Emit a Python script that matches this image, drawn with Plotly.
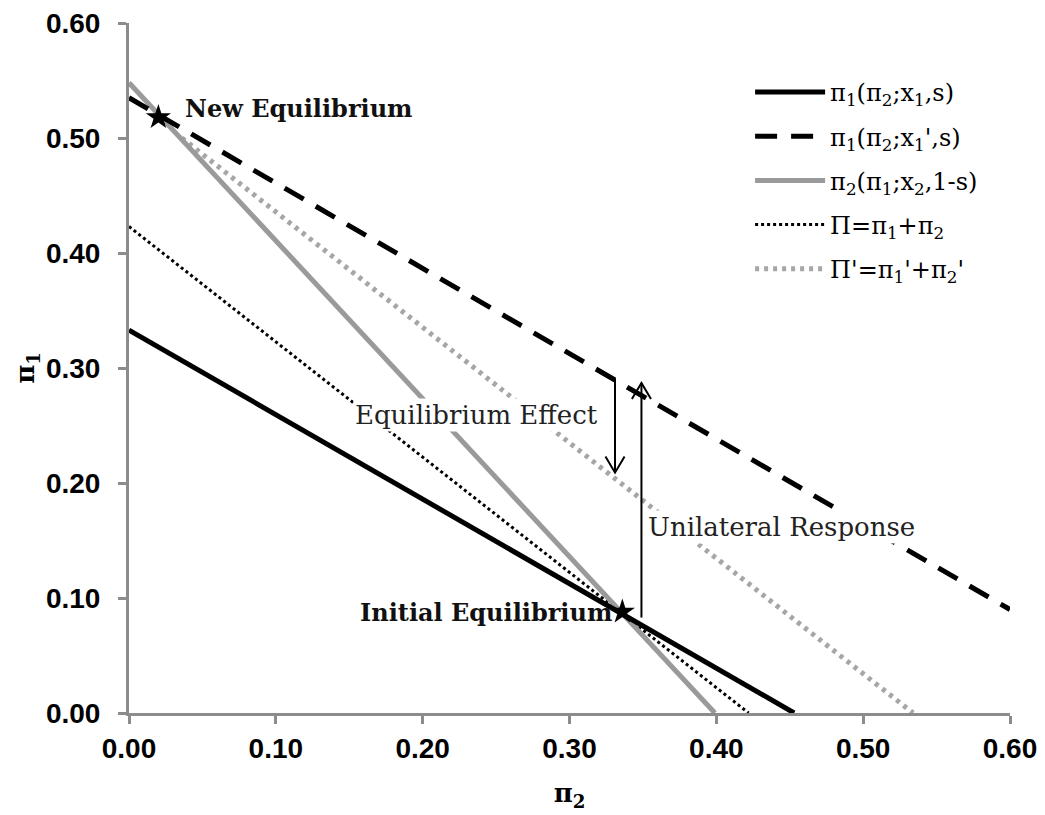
import plotly.graph_objects as go

# ---- data (pi2 on x, pi1 on y) ----
br1_x = [0.0, 0.453]          # pi1(pi2; x1, s)
br1_y = [0.333, 0.0]
br1n_x = [0.0, 0.60]          # pi1(pi2; x1', s)
br1n_y = [0.535, 0.090]
br2_x = [0.0, 0.399]          # pi2(pi1; x2, 1-s)
br2_y = [0.548, 0.0]
tot_x = [0.0, 0.422]          # Pi = pi1 + pi2
tot_y = [0.423, 0.0]
totn_x = [0.036, 0.534]       # Pi' = pi1' + pi2'
totn_y = [0.500, 0.0]

eq_init = (0.336, 0.088)
eq_new = (0.020, 0.518)

# arrows: (x, y_start, y_tip)
arrow_eq_effect = (0.331, 0.291, 0.209)
arrow_unilateral = (0.349, 0.083, 0.287)

tick_vals = [0.0, 0.1, 0.2, 0.3, 0.4, 0.5, 0.6]
tick_text = ["0.00", "0.10", "0.20", "0.30", "0.40", "0.50", "0.60"]

names = [
    "π<sub>1</sub>(π<sub>2</sub>;x<sub>1</sub>,s)",
    "π<sub>1</sub>(π<sub>2</sub>;x<sub>1</sub>',s)",
    "π<sub>2</sub>(π<sub>1</sub>;x<sub>2</sub>,1-s)",
    "Π=π<sub>1</sub>+π<sub>2</sub>",
    "Π'=π<sub>1</sub>'+π<sub>2</sub>'",
]

GRAY = "#9a9a9a"
SERIF = "DejaVu Serif"

fig = go.Figure()

# draw order: dotted lines first, then gray solid, dashed, black solid
fig.add_trace(go.Scatter(x=totn_x, y=totn_y, mode="lines", name=names[4], legendrank=5,
                         legendgroup="e", line=dict(color="#a6a6a6", width=5, dash="4px,5px")))
fig.add_trace(go.Scatter(x=tot_x, y=tot_y, mode="lines", name=names[3], legendrank=4,
                         legendgroup="d", line=dict(color="black", width=3, dash="3px,3px")))
fig.add_trace(go.Scatter(x=br2_x, y=br2_y, mode="lines", name=names[2], legendrank=3,
                         legendgroup="c", line=dict(color=GRAY, width=5)))
fig.add_trace(go.Scatter(x=br1n_x, y=br1n_y, mode="lines", name=names[1], legendrank=2,
                         legendgroup="b", line=dict(color="black", width=5, dash="22px,14px")))
fig.add_trace(go.Scatter(x=br1_x, y=br1_y, mode="lines", name=names[0], legendrank=1,
                         legendgroup="a", line=dict(color="black", width=5)))

# arrows (shaft + open V head), head size derived in data units
head_dx, head_dy = 0.0065, 0.014
for (ax_x, y0, y1) in [arrow_eq_effect, arrow_unilateral]:
    sgn = 1 if y1 > y0 else -1
    fig.add_trace(go.Scatter(
        x=[ax_x, ax_x, None, ax_x - head_dx, ax_x, ax_x + head_dx],
        y=[y0, y1, None, y1 - sgn * head_dy, y1, y1 - sgn * head_dy],
        mode="lines", line=dict(color="black", width=2), showlegend=False, hoverinfo="skip"))

# equilibrium stars
fig.add_trace(go.Scatter(x=[eq_init[0], eq_new[0]], y=[eq_init[1], eq_new[1]], mode="markers",
                         marker=dict(symbol="star", size=19, color="black"),
                         showlegend=False, hoverinfo="skip"))

ann_font = dict(family=SERIF, size=26, color="#222")
fig.add_annotation(x=0.321, y=0.259, text="Equilibrium Effect", showarrow=False,
                   xanchor="right", yanchor="middle", bgcolor="white", font=ann_font)
fig.add_annotation(x=0.352, y=0.162, text="Unilateral Response", showarrow=False,
                   xanchor="left", yanchor="middle", bgcolor="white", font=ann_font)
fig.add_annotation(x=0.037, y=0.526, text="<b>New Equilibrium</b>", showarrow=False,
                   xanchor="left", yanchor="middle",
                   font=dict(family=SERIF, size=24, color="#111"))
fig.add_annotation(x=0.330, y=0.087, text="<b>Initial Equilibrium</b>", showarrow=False,
                   xanchor="right", yanchor="middle",
                   font=dict(family=SERIF, size=24, color="#111"))

axis_common = dict(
    range=[0, 0.6], tickvals=tick_vals, ticktext=tick_text,
    showgrid=False, zeroline=False, showline=True, linecolor="#8c8c8c", linewidth=3,
    ticks="outside", ticklen=8, tickwidth=3, tickcolor="#8c8c8c",
    tickfont=dict(family="Liberation Sans", size=28, color="black", weight="bold"),
    fixedrange=True, automargin=False, ticklabeloverflow="allow",
)

fig.update_layout(
    width=1045, height=815,
    # page body has an 8px default margin; compensate so the plot area lands in place
    margin=dict(l=121, r=43, t=15, b=110),
    plot_bgcolor="white", paper_bgcolor="white",
    xaxis=dict(**axis_common, title=dict(text="π<sub>2</sub>", standoff=22,
               font=dict(family=SERIF, size=26, color="black", weight="bold"))),
    yaxis=dict(**axis_common, ticklabelstandoff=12,
               title=dict(text="π<sub>1</sub>", standoff=4,
               font=dict(family=SERIF, size=26, color="black", weight="bold"))),
    legend=dict(x=0.705, y=0.932, xanchor="left", yanchor="top", bgcolor="rgba(0,0,0,0)",
                font=dict(family=SERIF, size=24, color="black"),
                itemwidth=70, tracegroupgap=10, traceorder="grouped"),
    showlegend=True,
)

fig.write_html("out.html")
